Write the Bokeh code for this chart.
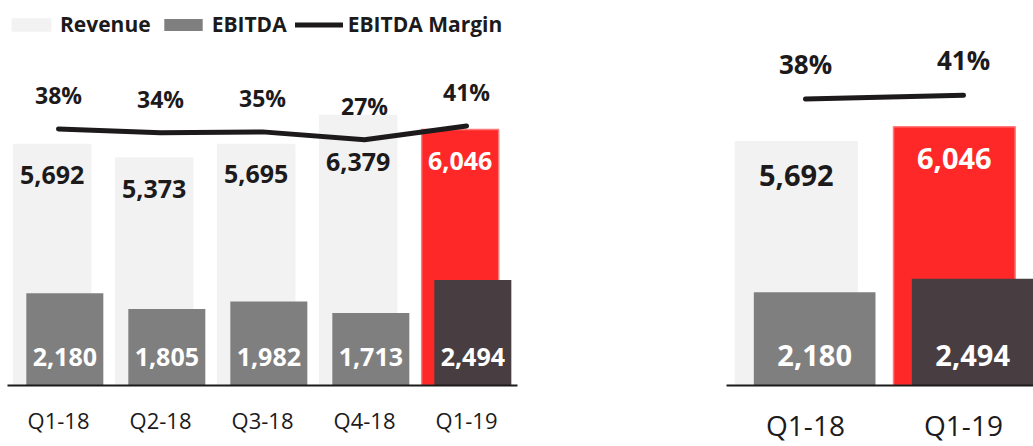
from bokeh.plotting import figure
from bokeh.layouts import row
from bokeh.models import Range1d, FixedTicker, ColumnDataSource, Legend, LegendItem
from bokeh.core.properties import value
from bokeh.embed import file_html
from bokeh.resources import INLINE

# ---------------- data ----------------
quarters = ["Q1-18", "Q2-18", "Q3-18", "Q4-18", "Q1-19"]
revenue = [5692, 5373, 5695, 6379, 6046]
ebitda = [2180, 1805, 1982, 1713, 2494]
margin = [38, 34, 35, 27, 41]

cmp_quarters = ["Q1-18", "Q1-19"]
cmp_revenue = [5692, 6046]
cmp_ebitda = [2180, 2494]
cmp_margin = [38, 41]

# ---------------- styles ----------------
REV_C = "#f2f2f2"
REV_HL = "#ff2828"
REV_HL_EDGE = "#ff7a7a"
EB_C = "#7f7f7f"
EB_HL = "#483e41"
INK = "#1c1a1b"
FONT = "Open Sans"
H = 446


def fmt(v):
    return f"{v:,}"


def panel(cats, rev, eb, mar, width, border_left, border_right, frame_w, cat_px,
          frame_top, frame_bottom, px_per_unit, m_ref, m_ref_y, m_px,
          bar_w, off, val_font, pct_font, cat_font,
          rev_dy, eb_dy, pct_dy, cat_standoff):
    n = len(cats)
    xs = list(range(n))
    fh = frame_bottom - frame_top
    p = figure(width=width, height=H, output_backend="svg", toolbar_location=None,
               x_range=Range1d(-0.5, -0.5 + frame_w / cat_px),
               y_range=Range1d(0, fh / px_per_unit),
               min_border_left=border_left, min_border_right=border_right,
               min_border_top=frame_top, min_border_bottom=H - frame_bottom)
    p.outline_line_color = None
    p.xgrid.visible = False
    p.ygrid.visible = False
    p.yaxis.visible = False
    p.background_fill_color = None
    p.border_fill_color = None
    p.extra_y_ranges = {"m": Range1d(m_ref - (frame_bottom - m_ref_y) / m_px,
                                     m_ref + (m_ref_y - frame_top) / m_px)}

    rev_colors = [REV_C] * (n - 1) + [REV_HL]
    rev_lines = [REV_C] * (n - 1) + [REV_HL_EDGE]
    eb_colors = [EB_C] * (n - 1) + [EB_HL]
    rev_txt = [INK] * (n - 1) + ["white"]

    src = ColumnDataSource(dict(
        xr=[x - off for x in xs], xe=[x + off for x in xs], x=xs,
        rev=rev, eb=eb, mar=mar,
        rc=rev_colors, rl=rev_lines, ec=eb_colors, rt=rev_txt,
        revl=[fmt(v) for v in rev], ebl=[fmt(v) for v in eb],
        marl=[f"{m}%" for m in mar],
        rdy=rev_dy, zero=[0] * n,
    ))
    r_rev = p.vbar(x="xr", top="rev", width=bar_w, source=src, fill_color="rc",
                   line_color="rl", line_width=1.5)
    r_eb = p.vbar(x="xe", top="eb", width=bar_w, source=src, fill_color="ec",
                  line_color=None)
    r_line = p.line(x="x", y="mar", source=src, y_range_name="m", line_color=INK,
                    line_width=5, line_cap="round", line_join="round")

    p.text(x="xr", y="rev", text="revl", source=src, y_offset="rdy",
           text_color="rt", text_font=value(FONT), text_font_style="bold",
           text_font_size=val_font, text_align="center", text_baseline="middle")
    p.text(x="xe", y="zero", text="ebl", source=src, y_offset=eb_dy,
           text_color="white", text_font=value(FONT), text_font_style="bold",
           text_font_size=val_font, text_align="center", text_baseline="middle")
    p.text(x="x", y="mar", text="marl", source=src, y_range_name="m", y_offset=pct_dy,
           text_color=INK, text_font=value(FONT), text_font_style="bold",
           text_font_size=pct_font, text_align="center", text_baseline="middle")

    ax = p.xaxis[0]
    ax.ticker = FixedTicker(ticks=xs)
    ax.major_label_overrides = {i: c for i, c in enumerate(cats)}
    ax.major_tick_line_color = None
    ax.minor_tick_line_color = None
    ax.axis_line_color = INK
    ax.axis_line_width = 2
    ax.major_label_text_font = FONT
    ax.major_label_text_font_size = cat_font
    ax.major_label_text_color = INK
    ax.major_label_standoff = cat_standoff
    return p, r_rev, r_eb, r_line


# left panel: frame x 7..517, y 10..390
left, lr, le, ll = panel(
    quarters, revenue, ebitda, margin,
    width=540, border_left=7, border_right=23, frame_w=510, cat_px=102,
    frame_top=10, frame_bottom=390, px_per_unit=0.0429,
    m_ref=38, m_ref_y=130, m_px=1.0,
    bar_w=0.755, off=0.062, val_font="25px", pct_font="23px", cat_font="22px",
    rev_dy=[30, 31, 30, 47, 31], eb_dy=-29, pct_dy=-34, cat_standoff=13)

legend = Legend(items=[
    LegendItem(label="Revenue", renderers=[lr], index=0),
    LegendItem(label="EBITDA", renderers=[le], index=0),
    LegendItem(label="EBITDA Margin", renderers=[ll]),
], orientation="horizontal", location="top_left",
    glyph_width=48, glyph_height=15, label_standoff=5, spacing=8,
    padding=0, margin=0, background_fill_alpha=0, border_line_alpha=0,
    label_text_font=FONT, label_text_font_style="bold", label_text_font_size="21px",
    label_text_color=INK)
left.add_layout(legend)

# right panel: frame x 726..1033, y 10..391
right, _, _, _ = panel(
    cmp_quarters, cmp_revenue, cmp_ebitda, cmp_margin,
    width=493, border_left=186, border_right=0, frame_w=307, cat_px=158,
    frame_top=10, frame_bottom=391, px_per_unit=0.0435,
    m_ref=38, m_ref_y=100, m_px=1.333,
    bar_w=0.77, off=0.058, val_font="29px", pct_font="26px", cat_font="28px",
    rev_dy=[34, 32], eb_dy=-30, pct_dy=-35, cat_standoff=14)

layout = row(left, right)
open("out.html", "w").write(file_html(layout, INLINE))
